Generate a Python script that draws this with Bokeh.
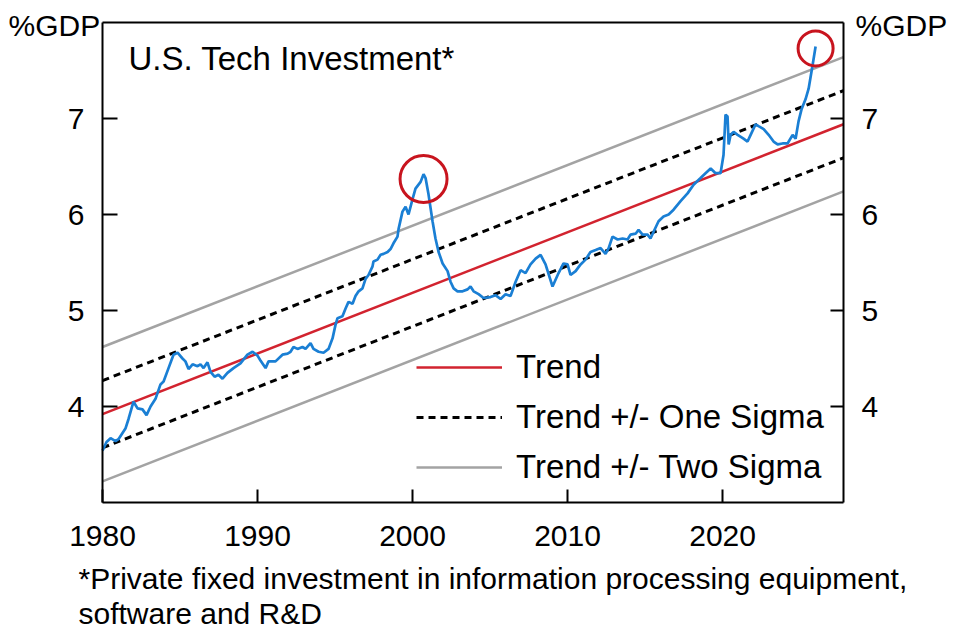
from bokeh.plotting import figure
from bokeh.models import Range1d, LinearAxis, Label, Legend, LegendItem, FixedTicker
from bokeh.embed import file_html
from bokeh.resources import INLINE

# ---- data ----
years = [1980.0, 1980.26, 1980.52, 1980.84, 1981.03, 1981.48, 1981.68, 1982.0, 1982.26, 1982.58,
         1982.84, 1983.1, 1983.42, 1983.74, 1983.94, 1984.26, 1984.58, 1984.84, 1985.16, 1985.35,
         1985.55, 1985.81, 1986.13, 1986.32, 1986.52, 1986.77, 1986.97, 1987.23, 1987.48, 1987.74,
         1988.06, 1988.45, 1988.9, 1989.35, 1989.68, 1990.0, 1990.19, 1990.52, 1990.71, 1991.16,
         1991.61, 1991.94, 1992.13, 1992.32, 1992.58, 1992.9, 1993.1, 1993.42, 1993.61, 1993.94,
         1994.26, 1994.58, 1994.84, 1995.03, 1995.16, 1995.48, 1995.68, 1995.87, 1996.13, 1996.32,
         1996.52, 1996.77, 1996.97, 1997.16, 1997.42, 1997.48, 1997.74, 1997.94, 1998.13, 1998.39,
         1998.58, 1998.77, 1999.03, 1999.1, 1999.35, 1999.55, 1999.74, 2000.0, 2000.19, 2000.52,
         2000.71, 2000.84, 2001.03, 2001.29, 2001.48, 2001.68, 2001.94, 2002.26, 2002.45, 2002.65,
         2002.9, 2003.23, 2003.55, 2003.74, 2003.94, 2004.26, 2004.58, 2005.03, 2005.35, 2005.68,
         2006.0, 2006.32, 2006.65, 2006.97, 2007.29, 2007.61, 2007.94, 2008.26, 2008.58, 2009.03,
         2009.42, 2009.74, 2010.0, 2010.19, 2010.52, 2010.84, 2011.16, 2011.48, 2011.81, 2012.13,
         2012.45, 2012.65, 2012.9, 2013.23, 2013.55, 2013.87, 2014.06, 2014.39, 2014.58, 2014.84,
         2015.16, 2015.35, 2015.55, 2015.87, 2016.19, 2016.52, 2016.84, 2017.29, 2017.74, 2018.13,
         2018.58, 2018.9, 2019.23, 2019.55, 2019.87, 2020.06, 2020.19, 2020.32, 2020.39, 2020.52,
         2020.71, 2020.97, 2021.35, 2021.61, 2021.81, 2022.13, 2022.32, 2022.65, 2022.97, 2023.29,
         2023.55, 2023.87, 2024.19, 2024.52, 2024.71, 2024.9, 2025.1, 2025.35, 2025.55, 2025.81,
         2026.0]
values = [3.54, 3.63, 3.67, 3.64, 3.66, 3.77, 3.87, 4.05, 3.98, 3.97,
          3.91, 4.00, 4.08, 4.23, 4.26, 4.40, 4.54, 4.56, 4.50, 4.47,
          4.39, 4.44, 4.42, 4.44, 4.40, 4.46, 4.36, 4.31, 4.33, 4.29,
          4.35, 4.40, 4.45, 4.54, 4.57, 4.53, 4.48, 4.40, 4.47, 4.47,
          4.54, 4.55, 4.57, 4.62, 4.60, 4.62, 4.60, 4.66, 4.60, 4.57,
          4.56, 4.60, 4.71, 4.85, 4.92, 4.94, 5.02, 5.09, 5.07, 5.15,
          5.20, 5.23, 5.33, 5.37, 5.46, 5.51, 5.53, 5.58, 5.59, 5.61,
          5.64, 5.70, 5.77, 5.85, 6.03, 6.08, 6.00, 6.16, 6.27, 6.34,
          6.42, 6.38, 6.21, 5.93, 5.75, 5.61, 5.49, 5.41, 5.30, 5.23,
          5.20, 5.20, 5.22, 5.25, 5.20, 5.17, 5.13, 5.14, 5.16, 5.12,
          5.17, 5.15, 5.30, 5.42, 5.39, 5.48, 5.54, 5.58, 5.48, 5.25,
          5.39, 5.49, 5.48, 5.37, 5.41, 5.48, 5.53, 5.61, 5.63, 5.65,
          5.59, 5.65, 5.77, 5.74, 5.75, 5.74, 5.79, 5.80, 5.84, 5.79,
          5.79, 5.75, 5.82, 5.93, 5.98, 6.00, 6.05, 6.14, 6.22, 6.31,
          6.38, 6.43, 6.48, 6.43, 6.43, 6.62, 7.04, 7.02, 6.73, 6.83,
          6.86, 6.83, 6.79, 6.76, 6.83, 6.94, 6.92, 6.89, 6.83, 6.76,
          6.73, 6.74, 6.74, 6.83, 6.79, 6.97, 7.10, 7.20, 7.31, 7.56,
          7.75]

trend_years = [1980.0, 2027.8]
trend_values = [3.92, 6.94]
sigma = 0.35

x_ticks = [1980, 1990, 2000, 2010, 2020]
y_ticks = [4, 5, 6, 7]
x_bounds = (1980.0, 2027.8)
y_bounds = (3.0, 8.0)

title_text = "U.S. Tech Investment*"
unit_text = "%GDP"
footnote_lines = ["*Private fixed investment in information processing equipment,",
                  "software and R&D"]
legend_labels = ["Trend", "Trend +/- One Sigma", "Trend +/- Two Sigma"]

FONT = "Liberation Sans"
W, H = 958, 637
# the axes box inside the canvas (pixels)
BOX_L, BOX_R, BOX_T, BOX_B = 102, 843, 22, 502

# ranges chosen so that the axes box lands where it should while the
# plotting frame covers the whole canvas (so outside texts are not clipped)
xpp = (x_bounds[1] - x_bounds[0]) / (BOX_R - BOX_L)
ypp = (y_bounds[1] - y_bounds[0]) / (BOX_B - BOX_T)
x_range = Range1d(x_bounds[0] - BOX_L * xpp, x_bounds[1] + (W - BOX_R) * xpp)
y_range = Range1d(y_bounds[0] - (H - BOX_B) * ypp, y_bounds[1] + BOX_T * ypp)

p = figure(width=W, height=H, x_range=x_range, y_range=y_range,
           output_backend="svg", toolbar_location=None,
           min_border=0, min_border_left=0, min_border_right=0,
           min_border_top=0, min_border_bottom=0,
           x_axis_location=None, y_axis_location=None)
p.grid.visible = False
p.outline_line_color = None
p.background_fill_color = "white"
p.border_fill_color = "white"


def make_axis(ticks, loc, bounds, tick_len, standoff, labels=True):
    ax = LinearAxis(fixed_location=loc, bounds=bounds, ticker=FixedTicker(ticks=ticks))
    ax.axis_line_color = "black"
    ax.axis_line_width = 2
    ax.major_tick_in = tick_len
    ax.major_tick_out = 0
    ax.major_tick_line_width = 2
    ax.major_tick_line_color = "black"
    ax.minor_tick_line_color = None
    ax.major_label_text_font = FONT
    ax.major_label_text_font_size = "30px"
    ax.major_label_text_color = "black" if labels else None
    ax.major_label_standoff = standoff
    return ax


p.add_layout(make_axis(x_ticks, y_bounds[0], x_bounds, 13, 23), "below")
p.add_layout(make_axis([], y_bounds[1], x_bounds, 0, 0, labels=False), "above")
p.add_layout(make_axis(y_ticks, x_bounds[0], y_bounds, 15, 18), "left")
p.add_layout(make_axis(y_ticks, x_bounds[1], y_bounds, 13, 18), "right")

# trend bands
t_lo2 = [v - 2 * sigma for v in trend_values]
t_lo1 = [v - sigma for v in trend_values]
t_hi1 = [v + sigma for v in trend_values]
t_hi2 = [v + 2 * sigma for v in trend_values]

gray = "#a3a3a3"
r_two = p.line(trend_years, t_hi2, line_color=gray, line_width=2.5)
p.line(trend_years, t_lo2, line_color=gray, line_width=2.5)
r_one = p.line(trend_years, t_hi1, line_color="black", line_width=3, line_dash="7 5")
p.line(trend_years, t_lo1, line_color="black", line_width=3, line_dash="7 5")
r_trend = p.line(trend_years, trend_values, line_color="#d2232f", line_width=2.5)

# series
p.line(years, values, line_color="#1a7fd4", line_width=2.7)

# highlight circles: the 2000 peak and the latest point
early = [i for i, y in enumerate(years) if y < 2005]
i_peak = max(early, key=lambda i: values[i])
i_last = len(years) - 1
p.scatter([years[i_peak], years[i_last]], [values[i_peak] - 0.05, values[i_last] - 0.02],
          marker="circle", size=[47, 35], fill_color=None, line_color="#c8141e", line_width=3)

legend = Legend(items=[LegendItem(label=legend_labels[0], renderers=[r_trend]),
                       LegendItem(label=legend_labels[1], renderers=[r_one]),
                       LegendItem(label=legend_labels[2], renderers=[r_two])],
                location=(416, H - 487), glyph_width=86, glyph_height=40, label_height=40,
                spacing=10, label_standoff=14, padding=0, margin=0,
                border_line_color=None, background_fill_alpha=0,
                label_text_font=FONT, label_text_font_size="33px", label_text_color="black")
p.add_layout(legend)


def add_label(x, y_top, text, size):
    # x, y_top in canvas pixels from the top-left corner
    p.add_layout(Label(x=x, y=H - y_top, x_units="screen", y_units="screen", text=text,
                       text_font=FONT, text_font_size=size, text_color="black",
                       text_align="left", text_baseline="middle"))


add_label(128, 58, title_text, "33px")
add_label(8, 25, unit_text, "30px")
add_label(855, 25, unit_text, "30px")
add_label(78, 578, footnote_lines[0], "30px")
add_label(78, 613, footnote_lines[1], "30px")

open("out.html", "w").write(file_html(p, INLINE))
